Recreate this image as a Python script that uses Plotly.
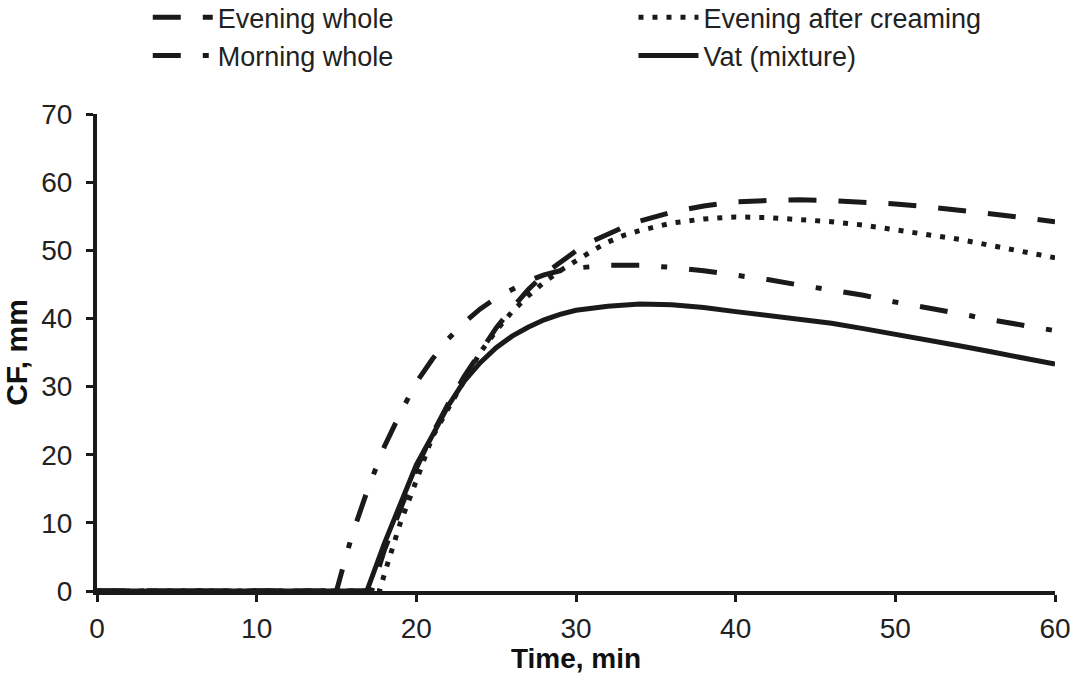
import plotly.graph_objects as go

# ---- data ----
t_evening_whole = [0, 17.2, 18, 19, 20, 21, 22, 23, 24, 25, 26, 27, 28, 29, 30, 31, 32, 33, 34, 36, 38, 40, 42, 44, 46, 48, 50, 52, 54, 56, 58, 60]
cf_evening_whole = [0, 0, 6, 12, 18, 23, 27.5, 31.5, 35.2, 38.6, 41.5, 44.2, 46.5, 48.3, 49.9, 51.3, 52.4, 53.4, 54.3, 55.6, 56.5, 57.1, 57.3, 57.4, 57.3, 57.1, 56.8, 56.4, 55.9, 55.4, 54.8, 54.2]

t_evening_creamed = [0, 17.7, 18, 18.5, 19, 20, 21, 22, 23, 24, 25, 26, 27, 28, 29, 30, 31, 32, 33, 34, 36, 38, 40, 42, 44, 46, 48, 50, 52, 54, 56, 58, 60]
cf_evening_creamed = [0, 0, 2.5, 6.5, 10, 16.2, 22.6, 26.8, 30.8, 35, 38.2, 41, 43.3, 45.3, 47, 48.5, 49.9, 51.2, 52.2, 52.9, 54.0, 54.6, 54.9, 54.8, 54.5, 54.2, 53.7, 53.0, 52.3, 51.6, 50.7, 49.8, 48.9]

t_morning_whole = [0, 15, 15.5, 16, 17, 18, 19, 20, 21, 22, 23, 24, 25, 26, 27, 28, 29, 30, 32, 34, 36, 38, 40, 42, 44, 46, 48, 50, 52, 54, 56, 58, 60]
cf_morning_whole = [0, 0, 4.3, 8.4, 15.2, 21.2, 26.1, 30.6, 34, 37, 39.4, 41.4, 43.0, 44.3, 45.5, 46.4, 47.0, 47.4, 47.8, 47.8, 47.5, 47.0, 46.4, 45.7, 44.9, 44.2, 43.4, 42.4, 41.6, 40.7, 39.8, 39.0, 38.2]

t_vat = [0, 16.9, 18, 19, 20, 21, 22, 23, 24, 25, 26, 27, 28, 29, 30, 32, 34, 36, 38, 40, 42, 44, 46, 48, 50, 52, 54, 56, 58, 60]
cf_vat = [0, 0, 7, 12.8, 18.5, 22.8, 27.2, 30.8, 33.5, 35.7, 37.4, 38.7, 39.8, 40.6, 41.2, 41.8, 42.1, 42.0, 41.6, 41.0, 40.4, 39.8, 39.3, 38.5, 37.7, 36.9, 36.0, 35.1, 34.2, 33.3]

x_ticks = [0, 10, 20, 30, 40, 50, 60]
y_ticks = [0, 10, 20, 30, 40, 50, 60, 70]

FONT = "Liberation Sans, Arial, sans-serif"
INK = "#1a1a1a"

fig = go.Figure()
fig.add_trace(go.Scatter(x=t_evening_whole, y=cf_evening_whole, mode="lines", name="Evening whole",
                         legend="legend", line=dict(color=INK, width=5, dash="28px,22px")))
fig.add_trace(go.Scatter(x=t_morning_whole, y=cf_morning_whole, mode="lines", name="Morning whole",
                         legend="legend", line=dict(color=INK, width=5, dash="28px,22px,6px,22px")))
fig.add_trace(go.Scatter(x=t_evening_creamed, y=cf_evening_creamed, mode="lines", name="Evening after creaming",
                         legend="legend2", line=dict(color=INK, width=5, dash="5px,9px")))
fig.add_trace(go.Scatter(x=t_vat, y=cf_vat, mode="lines", name="Vat (mixture)",
                         legend="legend2", line=dict(color=INK, width=5)))

legend_common = dict(orientation="v", xanchor="left", yanchor="top", y=1.253,
                     font=dict(size=27, family=FONT, color="#222222"),
                     bgcolor="rgba(0,0,0,0)", itemwidth=60, tracegroupgap=0, borderwidth=0)

fig.update_layout(
    width=1071, height=674,
    margin=dict(l=97, r=16, t=114, b=83, autoexpand=False),
    paper_bgcolor="white", plot_bgcolor="white",
    font=dict(family=FONT, color="#222222", size=26),
    showlegend=True,
    legend=dict(x=0.053, **legend_common),
    legend2=dict(x=0.56, **legend_common),
    xaxis=dict(range=[0, 60], tickmode="array", tickvals=x_ticks, automargin=True,
               showgrid=False, zeroline=False, showline=True, linecolor=INK, linewidth=4,
               ticks="outside", ticklen=7, tickwidth=3, tickcolor=INK,
               tickfont=dict(size=28, family=FONT, color="#222222"),
               ticklabelstandoff=2,
               title=dict(text="<b>Time, min</b>", font=dict(size=28, family=FONT, color="#111111"), standoff=15)),
    yaxis=dict(range=[0, 70], tickmode="array", tickvals=y_ticks, automargin=True,
               showgrid=False, zeroline=False, showline=True, linecolor=INK, linewidth=4,
               ticks="outside", ticklen=7, tickwidth=3, tickcolor=INK,
               tickfont=dict(size=28, family=FONT, color="#222222"),
               ticklabelstandoff=8,
               title=dict(text="<b>CF, mm</b>", font=dict(size=30, family=FONT, color="#111111"), standoff=6)),
)

fig.write_html("out.html")
